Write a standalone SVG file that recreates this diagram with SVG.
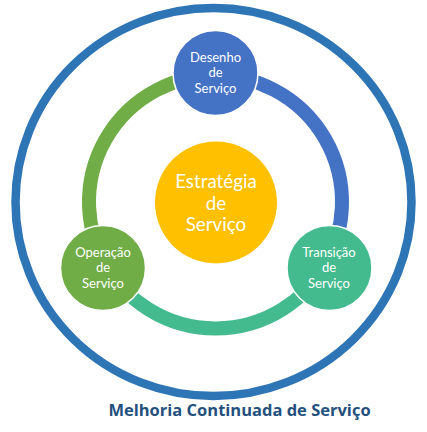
<svg xmlns="http://www.w3.org/2000/svg" width="427" height="432" viewBox="0 0 427 432">
<style>
.ring{fill:none;stroke-width:14}
.node{stroke:#fff;stroke-width:1.5}
.lbl{font-family:Lato,"Open Sans",sans-serif;font-size:13px;fill:#fff;text-anchor:middle}
.big{font-family:Lato,"Open Sans",sans-serif;font-size:18.8px;fill:#fff;text-anchor:middle}
.title{font-family:"Open Sans",sans-serif;font-weight:bold;font-size:16.5px;fill:#24507e;text-anchor:middle}
</style>
<rect width="427" height="432" fill="#fff"/>
<g id="melhoria">
<ellipse cx="213.5" cy="202" rx="198" ry="194" fill="none" stroke="#2e75b6" stroke-width="8.5"/>
<text class="title" x="239.5" y="416">Melhoria Continuada de Serviço</text>
</g>
<g id="connectors">
<path class="ring" stroke="#4472c4" d="M215.5 75.5 A126.5 126.5 0 0 1 325.05 265.25"/>
<path class="ring" stroke="#44bb8e" d="M325.05 265.25 A126.5 126.5 0 0 1 105.95 265.25"/>
<path class="ring" stroke="#70ad47" d="M105.95 265.25 A126.5 126.5 0 0 1 215.5 75.5"/>
</g>
<g id="estrategia">
<circle cx="216" cy="202.5" r="61" fill="#ffc000"/>
<text class="big" x="216" y="188">Estratégia</text>
<text class="big" x="216" y="209.5">de</text>
<text class="big" x="216" y="231">Serviço</text>
</g>
<g id="desenho">
<circle class="node" cx="215.5" cy="73" r="42.5" fill="#4472c4"/>
<text class="lbl" x="215.5" y="61.5">Desenho</text>
<text class="lbl" x="215.5" y="77">de</text>
<text class="lbl" x="215.5" y="92.5">Serviço</text>
</g>
<g id="transicao">
<circle class="node" cx="329.5" cy="268" r="42.5" fill="#44bb8e"/>
<text class="lbl" x="329" y="256.5">Transição</text>
<text class="lbl" x="329" y="272">de</text>
<text class="lbl" x="329" y="287.5">Serviço</text>
</g>
<g id="operacao">
<circle class="node" cx="103" cy="268" r="42.5" fill="#70ad47"/>
<text class="lbl" x="103" y="256.5">Operação</text>
<text class="lbl" x="103" y="272">de</text>
<text class="lbl" x="103" y="287.5">Serviço</text>
</g>
</svg>
